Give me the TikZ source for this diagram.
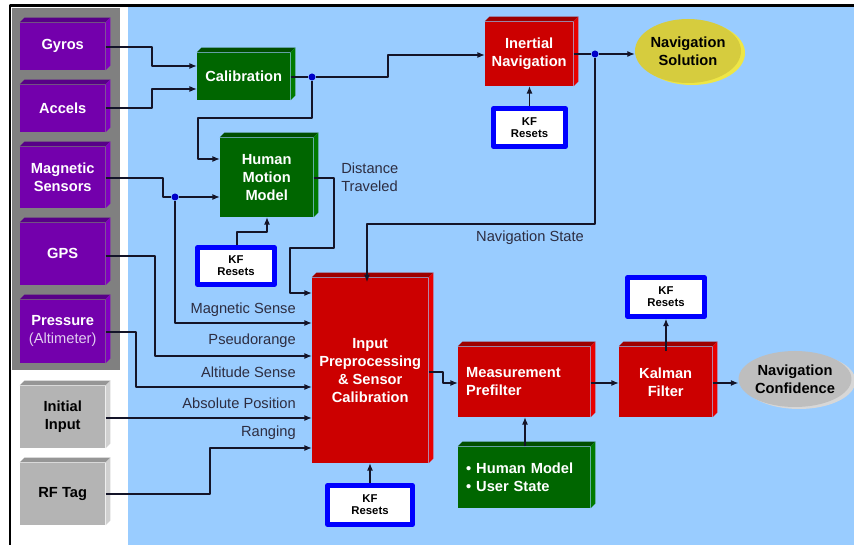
\documentclass[tikz,border=0pt]{standalone}
\usepackage{fontspec}
\setmainfont{Liberation Sans}
\usetikzlibrary{shapes.geometric,shadows,arrows.meta}
\definecolor{bgblue}{RGB}{153,204,255}
\definecolor{panelgray}{RGB}{128,128,128}
\definecolor{purfront}{RGB}{115,0,172}
\definecolor{purtop}{RGB}{88,0,136}
\definecolor{purside}{RGB}{128,0,192}
\definecolor{grnfront}{RGB}{0,102,0}
\definecolor{grntop}{RGB}{0,78,0}
\definecolor{grnside}{RGB}{0,122,0}
\definecolor{redfront}{RGB}{204,0,0}
\definecolor{redtop}{RGB}{158,0,0}
\definecolor{redside}{RGB}{232,0,0}
\definecolor{gryfront}{RGB}{180,180,180}
\definecolor{grytop}{RGB}{150,150,150}
\definecolor{gryside}{RGB}{208,208,208}
\definecolor{kfblue}{RGB}{0,0,255}
\definecolor{dotblue}{RGB}{0,0,200}
\definecolor{wirecol}{RGB}{20,20,40}
\definecolor{lblgray}{RGB}{45,45,65}
\definecolor{altcol}{RGB}{225,205,240}
\definecolor{solfront}{RGB}{214,204,62}
\definecolor{solside}{RGB}{238,230,70}
\definecolor{conffront}{RGB}{190,190,190}
\definecolor{confside}{RGB}{215,215,215}
\newlength\px
\setlength\px{0.75pt}
\def\dep{3.5pt}
\begin{document}
\begin{tikzpicture}[x=0.75pt, y=-0.75pt, line join=round,
  sz/.style 2 args={minimum width=#1\px, minimum height=#2\px},
  cube/.style n args={3}{fill=#1, inner sep=0pt, align=center, text=white,
    font=\fontsize{11}{13.5}\selectfont\bfseries,
    append after command={\pgfextra{
      \fill[#2] (\tikzlastnode.north west) -- ++(\dep,\dep)
        -- ([shift={(\dep,\dep)}]\tikzlastnode.north east) -- (\tikzlastnode.north east) -- cycle;
      \fill[#3] (\tikzlastnode.north east) -- ++(\dep,\dep)
        -- ([shift={(\dep,\dep)}]\tikzlastnode.south east) -- (\tikzlastnode.south east) -- cycle;
    }}},
  purplebox/.style={cube={purfront}{purtop}{purside}},
  greenbox/.style={cube={grnfront}{grntop}{grnside}},
  redbox/.style={cube={redfront}{redtop}{redside}},
  graybox/.style={cube={gryfront}{grytop}{gryside}, text=black},
  kfbox/.style={fill=white, draw=kfblue, line width=3.5pt, inner sep=0pt, align=center,
    font=\fontsize{8.5}{9}\selectfont\bfseries},
  oval/.style={ellipse, inner sep=0pt, align=center, text=black,
    font=\fontsize{11}{13.5}\selectfont\bfseries},
  dot/.style={circle, fill=dotblue, inner sep=0pt, minimum size=7\px},
  lbl/.style={inner sep=0pt, text=lblgray, font=\fontsize{11}{13.5}\selectfont},
  wire/.style={draw=wirecol, line width=0.9pt},
  arr/.style={wire, -{Latex[length=5.5pt,width=4.5pt]}}]
\useasboundingbox (0,0) rectangle (854,545);
\fill[white] (0,0) rectangle (854,545);
\fill[bgblue] (128,7) rectangle (854,545);
\fill[panelgray] (12,8) rectangle (120,370);
\draw[line width=2.2pt] (10,545) -- (10,5.5) -- (854,5.5);

\node[purplebox, sz={85.3}{47.3}] (gyros) at (62.7,46.3) {Gyros};
\node[purplebox, sz={85.3}{47.3}] (accels) at (62.7,108.3) {Accels};
\node[purplebox, sz={85.3}{61.3}] (mag) at (62.7,177.3) {Magnetic\\Sensors};
\node[purplebox, sz={85.3}{62.3}] (gps) at (62.7,253.8) {GPS};
\node[purplebox, sz={85.3}{63.3}] (press) at (62.7,331.3) {Pressure\\{\mdseries\color{altcol}(Altimeter)}};
\node[graybox, sz={85.3}{62.3}] (init) at (62.7,416.8) {Initial\\Input};
\node[graybox, sz={85.3}{62.3}] (rftag) at (62.7,493.8) {RF Tag};

\node[greenbox, sz={93.3}{47.3}] (cal) at (243.7,76.3) {Calibration};
\node[greenbox, sz={93.3}{79.3}] (hmm) at (266.7,177.3) {Human\\Motion\\Model};
\node[redbox, sz={88.3}{64.3}] (inav) at (529.2,53.8) {Inertial\\Navigation};
\node[oval, fill=solfront, general shadow={fill=solside, shadow xshift=3pt, shadow yshift=-1.5pt},
  sz={100}{64}] (nsol) at (688,51) {Navigation\\Solution};
\node[redbox, sz={116.3}{185.3}] (inp) at (370.2,370.3) {Input\\Preprocessing\\\& Sensor\\Calibration};
\node[redbox, sz={132.3}{70.3}, text width=116\px, align=left] (mpf) at (524.2,381.8) {Measurement\\Prefilter};
\node[redbox, sz={93.3}{70.3}] (kal) at (665.7,381.8) {Kalman\\Filter};
\node[oval, fill=conffront, general shadow={fill=confside, shadow xshift=3pt, shadow yshift=-1.5pt},
  sz={104}{56}] (nconf) at (795,379) {Navigation\\Confidence};
\node[greenbox, sz={132.3}{61.3}, text width=116\px, align=left] (hum) at (524.2,477.3) {\textbullet\ Human Model\\\textbullet\ User State};

\node[kfbox, sz={72}{38}] (kfa) at (529.5,127.5) {KF\\Resets};
\node[kfbox, sz={77}{37}] (kfb) at (236,266) {KF\\Resets};
\node[kfbox, sz={85}{39}] (kfc) at (370,505) {KF\\Resets};
\node[kfbox, sz={77}{39}] (kfd) at (666,297) {KF\\Resets};

\node[dot] (d1) at (312,77) {};
\node[dot] (d2) at (595,54) {};
\node[dot] (d3) at (175,197) {};

\draw[arr] (gyros.east |- 0,47) -| (152,66) -- (cal.west |- 0,66);
\draw[arr] (accels.east |- 0,108) -| (152,89) -- (cal.west |- 0,89);
\draw[wire] (cal.east |- 0,77) -- (d1);
\draw[arr] (d1) -- (388,77) |- (inav.west |- 0,55);
\draw[arr] (d1) |- (198,118) |- (hmm.west |- 0,159);
\draw[wire] (mag.east |- 0,178) -| (163,197) -- (d3);
\draw[arr] (d3) -- (hmm.west |- 0,197);
\draw[arr] (d3) |- (inp.west |- 0,323);
\draw[arr] (gps.east |- 0,256) -| (155,356) -- (inp.west |- 0,356);
\draw[arr] (press.east |- 0,332) -| (136,387) -- (inp.west |- 0,387);
\draw[arr] (init.east |- 0,418) -- (inp.west |- 0,418);
\draw[arr] (rftag.east |- 0,494) -| (210,448) -- (inp.west |- 0,448);
\draw[arr] (hmm.east |- 0,178) -| (334,248) -| (290,293) -- (inp.west |- 0,293);
\draw[wire] (inav.east |- 0,54) -- (d2);
\draw[arr] (d2) -- (nsol.west |- 0,54);
\draw[arr, shorten >=-\dep] (d2) |- (367,224) -- (inp.north -| 367,0);
\draw[arr] (kfa.north) -- (kfa.north |- inav.south);
\draw[arr] (kfb.north -| 237,0) |- (267,232) -- (hmm.south -| 267,0);
\draw[arr] (kfc.north) -- (kfc.north |- inp.south);
\draw[arr] (inp.east |- 0,372) -| (443,383) -- (mpf.west |- 0,383);
\draw[arr] (mpf.east |- 0,383) -- (kal.west |- 0,383);
\draw[arr] (kal.east |- 0,383) -- (nconf.west |- 0,383);
\draw[arr, shorten <=-\dep] (kal.north -| 666,0) -- (kfd.south -| 666,0);
\draw[arr] (hum.north -| 525,0) -- (mpf.south -| 525,0);

\node[lbl, anchor=west, align=left] (ldist) at (341,177) {Distance\\Traveled};
\node[lbl] (lnavst) at (530,238) {Navigation State};
\node[lbl, anchor=east] (lmag) at (296,310) {Magnetic Sense};
\node[lbl, anchor=east] (lpseudo) at (296,341) {Pseudorange};
\node[lbl, anchor=east] (lalt) at (296,372) {Altitude Sense};
\node[lbl, anchor=east] (labs) at (296,403) {Absolute Position};
\node[lbl, anchor=east] (lrang) at (296,433) {Ranging};
\end{tikzpicture}
\end{document}
